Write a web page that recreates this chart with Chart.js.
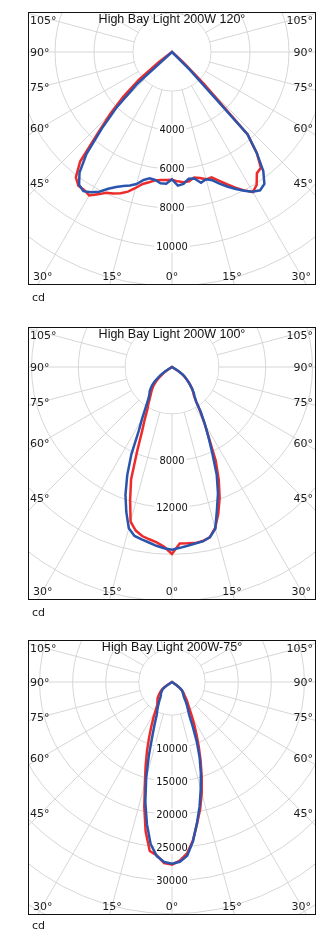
<!DOCTYPE html>
<html>
<head>
<meta charset="utf-8">
<script src="https://cdn.jsdelivr.net/npm/chart.js@4.4.1/dist/chart.umd.min.js"></script>
<style>
  body { margin: 0; background: #fff; width: 328px; height: 940px; position: relative; overflow: hidden;
         font-family: "DejaVu Sans", Verdana, sans-serif; color: #1a1a1a; }
  .frame { position: absolute; left: 28px; width: 288px; box-sizing: border-box; border: 1px solid #111; overflow: hidden; }
  .plot { position: absolute; }
  .plot canvas { display: block; }
  .title { position: absolute; left: 0; right: 0; top: -1px; text-align: center; white-space: nowrap;
           font: 12.5px/14px "Liberation Sans", Arial, sans-serif; color: #111; }
  .ang { position: absolute; font-size: 11px; line-height: 13px; white-space: nowrap; transform: translateY(-50%); }
  .ang.mid { transform: translate(-50%, -50%); }
  .unit { position: absolute; left: 32px; font-size: 11px; line-height: 13px; }
</style>
</head>
<body>
<script>
// gamma angle from nadir, left side positive, read left to right across each plot
const gamma = [60, 57.5, 55, 52.5, 50, 47.5, 45, 42.5, 40, 37.5, 35, 32.5, 30, 27.5, 25, 22.5, 20, 17.5, 15, 12.5,
               10, 7.5, 5, 2.5, 0, -2.5, -5, -7.5, -10, -12.5, -15, -17.5, -20, -22.5, -25, -27.5, -30, -32.5, -35, -37.5,
               -40, -42.5, -45, -47.5, -50, -52.5, -55, -57.5, -60];

// candela values, 120 deg lens
const blue120 = [0, 0, 0, 0, 0, 2460, 4000, 5330, 6820, 7790, 8310, 8460, 8310, 8080, 7740, 7490, 7310, 7180, 7010, 6720,
                 6580, 6620, 6760, 6760, 6530, 6860, 6790, 6550, 6590, 6870, 6760, 6900, 7200, 7480, 7750, 8020, 8270, 8410, 8260, 7690,
                 6770, 5740, 1280, 0, 0, 0, 0, 0, 0];
const red120 = [0, 0, 0, 920, 2210, 3380, 4460, 5590, 7330, 8100, 8370, 8390, 8490, 8230, 7960, 7860, 7710, 7510, 7220, 6930,
                6780, 6640, 6590, 6570, 6550, 6640, 6710, 6690, 6540, 6620, 6760, 6740, 7020, 7340, 7680, 8000, 8290, 8080, 7590, 7490,
                6770, 5740, 2310, 770, 0, 0, 0, 0, 0];

// 100 deg lens
const blue100 = [0, 680, 1200, 1540, 1960, 2310, 2560, 2820, 2990, 3250, 3670, 4270, 5120, 6150, 8200, 9990, 11620, 12980, 14260, 14780,
                 14950, 15120, 15330, 15500, 15600, 15460, 15330, 15200, 15130, 14900, 14300, 12770, 11480, 9990, 8170, 6750, 5600, 4580, 3590, 3160,
                 2900, 2560, 2220, 1880, 1620, 1370, 1110, 680, 0];
const red100 = [0, 430, 850, 1110, 1540, 1880, 2220, 2480, 2730, 2990, 3330, 3760, 4230, 5040, 6040, 7770, 10220, 11890, 13670, 14310,
                14660, 14840, 15030, 15370, 15970, 15080, 15120, 15170, 15090, 14900, 14230, 13140, 11900, 10440, 8840, 6830, 5550, 4530, 3590, 3070,
                2820, 2560, 2220, 1960, 1620, 1370, 1020, 510, 0];

// 75 deg lens
const blue75 = [0, 0, 1210, 1660, 1960, 2110, 2340, 2490, 2610, 2870, 3250, 3700, 4230, 4830, 5440, 6800, 8650, 11610, 15080, 18600,
                21800, 24700, 26390, 27190, 27440, 27180, 26330, 24270, 21670, 19240, 16760, 14500, 12230, 9820, 7430, 5620, 4860, 4230, 3620, 3020,
                2720, 2490, 2340, 2110, 1960, 1510, 910, 0, 0];
const red75 = [0, 910, 1510, 1960, 2270, 2570, 2870, 3170, 3400, 3620, 3850, 4150, 4880, 6070, 7370, 9010, 11020, 13240, 15820, 19330,
               22920, 25730, 26300, 27380, 27570, 27000, 25990, 24160, 21760, 19660, 17350, 14920, 12610, 10550, 8770, 7310, 6070, 5040, 4290, 3810,
               3320, 2870, 2570, 2270, 1960, 1510, 910, 0, 0];

const titles = ['High Bay Light 200W 120°', 'High Bay Light 200W 100°', 'High Bay Light 200W-75°'];
const ringMax = [14000, 24000, 45000];
const ringStep = [2000, 4000, 5000];
const ringLabels = [[4000, 6000, 8000, 10000], [8000, 12000], [10000, 15000, 20000, 25000, 30000]];
const sideAngles = [105, 90, 75, 60, 45];
const bottomAngles = [30, 15, 0, -15, -30];
const unitText = 'cd';

const RED = '#ee2b2b';
const BLUE = '#2b55ad';
const GRID = '#d6d6d6';
const CX = 171.7;          // polar centre x on the page
const SIDE_DX = 131;       // side labels sit on the angle line this far from centre
const BOTTOM_DY = 224;     // bottom labels likewise

const layout = [
  { top: 12, height: 273, cy: 52, radius: 273 },
  { top: 327, height: 273, cy: 367, radius: 281 },
  { top: 640, height: 275, cy: 681.5, radius: 298 }
];
const series = [[blue120, red120], [blue100, red100], [blue75, red75]];

// radar categories, clockwise from nadir (startAngle 180 puts index 0 at the bottom)
const STEP = 2.5;
const cats = [];
for (let a = 0; a < 360; a += STEP) cats.push(a);

function toRadar(values) {
  return cats.map(a => {
    const g = a <= 180 ? a : a - 360;
    const k = gamma.indexOf(g);
    return k < 0 ? 0 : values[k];
  });
}

// white hub inside the first ring + intensity labels down the 0° line, under the curves
const hubAndRings = {
  id: 'hubAndRings',
  beforeDatasetsDraw(chart, args, opts) {
    const s = chart.scales.r;
    const ctx = chart.ctx;
    ctx.save();
    ctx.fillStyle = '#fff';
    ctx.beginPath();
    ctx.arc(s.xCenter, s.yCenter, s.getDistanceFromCenterForValue(opts.inner) - 0.6, 0, Math.PI * 2);
    ctx.fill();
    ctx.font = '11px "DejaVu Sans Condensed", "Liberation Sans", sans-serif';
    ctx.textAlign = 'center';
    ctx.textBaseline = 'middle';
    opts.values.forEach(v => {
      const y = s.yCenter + s.getDistanceFromCenterForValue(v);
      const w = ctx.measureText(String(v)).width;
      ctx.fillStyle = '#fff';
      ctx.fillRect(s.xCenter - w / 2 - 2, y - 6, w + 4, 12);
      ctx.fillStyle = '#111';
      ctx.fillText(String(v), s.xCenter, y + 0.5);
    });
    ctx.restore();
  }
};

function addText(parent, cls, text, css) {
  const el = document.createElement('div');
  el.className = cls;
  el.textContent = text;
  Object.assign(el.style, css);
  parent.appendChild(el);
  return el;
}

layout.forEach((p, n) => {
  const frame = document.createElement('div');
  frame.className = 'frame';
  frame.style.top = p.top + 'px';
  frame.style.height = p.height + 'px';
  document.body.appendChild(frame);

  const inLeft = 29, inTop = p.top + 1;
  const innerW = 286, innerH = p.height - 2;
  const plot = document.createElement('div');
  plot.className = 'plot';
  const left = Math.round(CX - inLeft - p.radius);
  const top = Math.round(p.cy - inTop - p.radius);
  plot.style.left = left + 'px';
  plot.style.top = top + 'px';
  const canvas = document.createElement('canvas');
  canvas.width = p.radius * 2;
  canvas.height = p.radius * 2;
  plot.appendChild(canvas);
  frame.appendChild(plot);

  const [blue, red] = series[n];
  const chart = new Chart(canvas, {
    type: 'radar',
    data: {
      labels: cats.map(a => a + '°'),
      datasets: [
        { label: 'blue', data: toRadar(blue), borderColor: BLUE, borderWidth: 2.5, pointRadius: 0, fill: false, tension: 0 },
        { label: 'red', data: toRadar(red), borderColor: RED, borderWidth: 2.5, pointRadius: 0, fill: false, tension: 0 }
      ]
    },
    options: {
      responsive: false,
      animation: false,
      devicePixelRatio: 1,
      events: [],
      plugins: {
        legend: { display: false },
        tooltip: { enabled: false },
        hubAndRings: { inner: ringStep[n], values: ringLabels[n] }
      },
      scales: {
        r: {
          min: 0,
          max: ringMax[n],
          startAngle: 180,
          ticks: { display: false, stepSize: ringStep[n] },
          pointLabels: { display: false },
          grid: { circular: true, color: GRID, lineWidth: 1 },
          angleLines: { color: GRID, lineWidth: ctx => (ctx.index % 6 === 0 ? 1 : 0) }
        }
      }
    },
    plugins: [hubAndRings]
  });

  const s = chart.scales.r;
  const cx = left + s.xCenter;
  const cy = top + s.yCenter;

  addText(frame, 'title', titles[n], {});

  sideAngles.forEach(a => {
    const y = Math.max(7, cy + SIDE_DX / Math.tan(a * Math.PI / 180));
    addText(frame, 'ang', a + '°', { left: '1px', top: y + 'px' });
    addText(frame, 'ang', a + '°', { right: '2px', top: y + 'px' });
  });

  bottomAngles.forEach(g => {
    let x = cx - BOTTOM_DY * Math.tan(g * Math.PI / 180);
    x = Math.min(innerW - 13, Math.max(12, x));
    const y = Math.min(innerH - 8, cy + BOTTOM_DY);
    addText(frame, 'ang mid', Math.abs(g) + '°', { left: x + 'px', top: y + 'px' });
  });

  addText(document.body, 'unit', unitText, { top: (p.top + 279) + 'px' });
});
</script>
</body>
</html>
